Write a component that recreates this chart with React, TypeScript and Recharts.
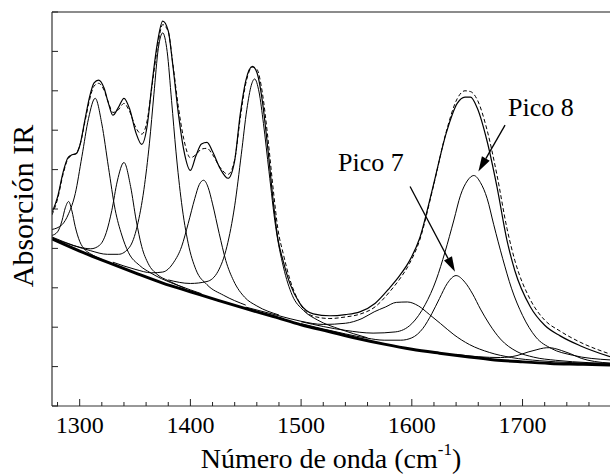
import React from 'react';
import { LineChart, Line, XAxis, YAxis, ReferenceLine, ReferenceDot } from 'recharts';

const FONT = 'Liberation Serif, Times New Roman, serif';

// measured spectrum and fitted envelope (same x grid)
const specX = [1275, 1280, 1285, 1289, 1292, 1297, 1300, 1305, 1309, 1313, 1317, 1322, 1326, 1330, 1335, 1340, 1345, 1351, 1356, 1361, 1365, 1370, 1375, 1380, 1384, 1389, 1394, 1400, 1405, 1410, 1415, 1420, 1427, 1434, 1440, 1445, 1450, 1456, 1460, 1465, 1470, 1475, 1479, 1484, 1490, 1499, 1511, 1526, 1540, 1553, 1567, 1580, 1589, 1598, 1607, 1619, 1631, 1641, 1648, 1653, 1659, 1668, 1677, 1686, 1693, 1707, 1720, 1734, 1752, 1779];
const measuredY = [4.91, 5.3, 5.93, 6.28, 6.36, 6.41, 6.6, 7.3, 7.85, 8.2, 8.27, 8.07, 7.68, 7.38, 7.58, 7.81, 7.55, 6.92, 6.64, 7.12, 8.1, 9.18, 9.77, 9.52, 8.68, 7.45, 6.5, 5.98, 6.35, 6.65, 6.69, 6.46, 6.02, 5.78, 6.23, 7.4, 8.25, 8.62, 8.47, 7.74, 6.52, 5.15, 4.25, 3.66, 3.1, 2.6, 2.34, 2.29, 2.32, 2.39, 2.61, 3.0, 3.31, 3.69, 4.25, 5.55, 6.92, 7.68, 7.84, 7.84, 7.57, 6.72, 5.55, 4.2, 3.44, 2.52, 2.05, 1.78, 1.53, 1.25];
const fitY = [4.85, 5.25, 5.88, 6.25, 6.35, 6.42, 6.6, 7.25, 7.78, 8.12, 8.19, 8.02, 7.7, 7.45, 7.52, 7.68, 7.48, 7.05, 6.9, 7.25, 8.05, 9.05, 9.68, 9.5, 8.72, 7.62, 6.78, 6.3, 6.38, 6.52, 6.54, 6.38, 6.05, 5.88, 6.25, 7.3, 8.18, 8.6, 8.55, 7.95, 6.8, 5.45, 4.5, 3.85, 3.2, 2.6, 2.28, 2.22, 2.26, 2.33, 2.52, 2.9, 3.22, 3.62, 4.2, 5.52, 6.95, 7.8, 8.0, 7.98, 7.78, 7.0, 5.85, 4.5, 3.7, 2.7, 2.18, 1.9, 1.62, 1.32];

// baseline
const baseX = [1275, 1300, 1325, 1350, 1375, 1400, 1425, 1450, 1475, 1500, 1525, 1550, 1575, 1600, 1625, 1650, 1675, 1700, 1725, 1750, 1779];
const baseY = [4.24, 3.93, 3.65, 3.38, 3.12, 2.9, 2.68, 2.47, 2.27, 2.06, 1.89, 1.72, 1.57, 1.44, 1.34, 1.25, 1.17, 1.12, 1.08, 1.06, 1.04];

// fitted component bands (each drawn on top of the baseline)
const p1290X = [1275, 1280, 1284, 1287, 1290, 1293, 1296, 1300, 1305, 1310, 1320];
const p1290Y = [4.33, 4.42, 4.7, 5.03, 5.19, 4.95, 4.55, 4.18, 3.96, 3.86, 3.72];

const p1314X = [1275, 1284, 1290, 1296, 1302, 1308, 1314, 1320, 1326, 1332, 1338, 1344, 1354, 1364, 1374, 1390, 1410];
const p1314Y = [4.48, 4.6, 4.88, 5.39, 6.33, 7.3, 7.81, 7.16, 6.06, 4.99, 4.34, 3.9, 3.57, 3.38, 3.23, 3.05, 2.85];

const p1340X = [1275, 1288, 1300, 1310, 1318, 1324, 1329, 1334, 1340, 1346, 1351, 1356, 1362, 1370, 1380, 1395];
const p1340Y = [4.27, 4.13, 4.03, 3.99, 4.08, 4.4, 4.96, 5.71, 6.18, 5.57, 4.72, 4.05, 3.61, 3.34, 3.18, 2.99];

const p1375X = [1275, 1295, 1310, 1325, 1335, 1345, 1352, 1358, 1363, 1367, 1371, 1375, 1379, 1383, 1387, 1392, 1398, 1405, 1415, 1430, 1450];
const p1375Y = [4.29, 4.07, 3.94, 3.85, 3.85, 4.03, 4.57, 5.49, 6.67, 7.9, 9.07, 9.47, 9.0, 7.75, 6.45, 5.16, 4.13, 3.46, 3.08, 2.81, 2.56];

const p1412X = [1330, 1350, 1365, 1375, 1385, 1392, 1398, 1404, 1408, 1412, 1416, 1420, 1426, 1432, 1439, 1449, 1460, 1480];
const p1412Y = [3.65, 3.47, 3.38, 3.4, 3.65, 4.04, 4.63, 5.27, 5.62, 5.73, 5.55, 5.13, 4.38, 3.69, 3.18, 2.76, 2.54, 2.31];

const p1458X = [1380, 1400, 1415, 1425, 1433, 1440, 1446, 1451, 1455, 1458, 1462, 1466, 1471, 1477, 1484, 1492, 1502, 1515, 1535, 1560];
const p1458Y = [3.2, 3.11, 3.16, 3.42, 4.05, 5.08, 6.39, 7.53, 8.14, 8.3, 7.97, 7.17, 5.95, 4.55, 3.53, 2.81, 2.43, 2.18, 1.95, 1.73];

const p1596X = [1450, 1480, 1500, 1520, 1540, 1555, 1566, 1576, 1586, 1596, 1606, 1616, 1626, 1638, 1652, 1670, 1690, 1715, 1745, 1779];
const p1596Y = [2.51, 2.29, 2.15, 2.07, 2.1, 2.22, 2.39, 2.51, 2.63, 2.64, 2.54, 2.32, 2.09, 1.81, 1.56, 1.36, 1.23, 1.15, 1.1, 1.06];

const pico7X = [1500, 1540, 1560, 1575, 1590, 1600, 1610, 1618, 1625, 1632, 1640, 1648, 1655, 1662, 1670, 1680, 1695, 1710, 1730, 1760, 1779];
const pico7Y = [2.09, 1.83, 1.72, 1.67, 1.67, 1.73, 1.97, 2.34, 2.73, 3.11, 3.31, 3.14, 2.84, 2.46, 2.08, 1.7, 1.38, 1.24, 1.16, 1.1, 1.08];

const pico8X = [1500, 1540, 1565, 1585, 1600, 1612, 1622, 1630, 1638, 1644, 1650, 1656, 1662, 1668, 1674, 1682, 1690, 1700, 1712, 1726, 1745, 1779];
const pico8Y = [2.14, 1.92, 1.85, 1.88, 2.09, 2.57, 3.2, 3.91, 4.72, 5.35, 5.71, 5.85, 5.67, 5.27, 4.6, 3.75, 2.99, 2.3, 1.75, 1.46, 1.29, 1.17];

const p1724X = [1640, 1660, 1680, 1695, 1705, 1713, 1719, 1724, 1729, 1735, 1743, 1753, 1765, 1779];
const p1724Y = [1.31, 1.25, 1.23, 1.28, 1.37, 1.43, 1.47, 1.48, 1.46, 1.41, 1.33, 1.21, 1.13, 1.09];

const xTicks = [1280, 1300, 1320, 1340, 1360, 1380, 1400, 1420, 1440, 1460, 1480, 1500, 1520, 1540, 1560, 1580, 1600, 1620, 1640, 1660, 1680, 1700, 1720, 1740, 1760];
const yTicks = [0, 1, 2, 3, 4, 5, 6, 7, 8, 9, 10];

const pts = (xs: number[], ys: number[]) => xs.map((x, i) => ({ x, y: ys[i] }));

const components = [
  pts(p1290X, p1290Y),
  pts(p1314X, p1314Y),
  pts(p1340X, p1340Y),
  pts(p1375X, p1375Y),
  pts(p1412X, p1412Y),
  pts(p1458X, p1458Y),
  pts(p1596X, p1596Y),
  pts(pico7X, pico7Y),
  pts(pico8X, pico8Y),
  pts(p1724X, p1724Y),
];

const serif = { fontFamily: FONT };

const XTick = (props: any) => {
  const { x, y, payload } = props;
  const major = payload.value % 100 === 0;
  return (
    <g>
      <line x1={x} x2={x} y1={y} y2={y - (major ? 7 : 4)} stroke="#222" strokeWidth={1} />
      {major && (
        <text x={x} y={y + 27} textAnchor="middle" fontSize={24} style={serif} fill="#000">
          {payload.value}
        </text>
      )}
    </g>
  );
};

const YTick = (props: any) => {
  const { x, y } = props;
  return <line x1={x} x2={x + 6} y1={y} y2={y} stroke="#222" strokeWidth={1} />;
};

const XTitle = (props: any) => {
  const vb = props.viewBox;
  return (
    <text x={vb.x + vb.width / 2} y={vb.y + 62} textAnchor="middle" fontSize={28} style={serif} fill="#000">
      <tspan>Número de onda (cm</tspan>
      <tspan dy={-13} fontSize={17}>-1</tspan>
      <tspan dy={13}>)</tspan>
    </text>
  );
};

const YTitle = (props: any) => {
  const vb = props.viewBox;
  const cx = 33;
  const cy = vb.y + vb.height / 2 - 3;
  return (
    <text x={cx} y={cy} transform={`rotate(-90 ${cx} ${cy})`} textAnchor="middle" fontSize={30} style={serif} fill="#000">
      Absorción IR
    </text>
  );
};

const Arrow = (props: any) => {
  const { x1, y1, x2, y2 } = props;
  const a = Math.atan2(y2 - y1, x2 - x1);
  const len = 15;
  const half = 4.5;
  const bx = x2 - len * Math.cos(a);
  const by = y2 - len * Math.sin(a);
  const p1 = `${bx - half * Math.sin(a)},${by + half * Math.cos(a)}`;
  const p2 = `${bx + half * Math.sin(a)},${by - half * Math.cos(a)}`;
  return (
    <g>
      <line x1={x1} y1={y1} x2={bx} y2={by} stroke="#000" strokeWidth={1.3} />
      <polygon points={`${x2},${y2} ${p1} ${p2}`} fill="#000" />
    </g>
  );
};

const textShape = (label: string) => (props: any) => (
  <text x={props.cx} y={props.cy} fontSize={26} style={serif} fill="#000">
    {label}
  </text>
);

export default function App() {
  return (
    <div style={{ position: 'absolute', left: 0, top: 0, background: '#fff', fontFamily: FONT }}>
      <LineChart width={610} height={474} margin={{ top: 12, right: 0, bottom: 0, left: 0 }}>
        <XAxis
          dataKey="x"
          type="number"
          domain={[1275, 1779]}
          allowDataOverflow
          ticks={xTicks}
          interval={0}
          tickLine={false}
          tickSize={0}
          tickMargin={0}
          tick={XTick}
          height={68}
          axisLine={{ stroke: '#333', strokeWidth: 1.2 }}
          label={XTitle}
        />
        <YAxis
          type="number"
          domain={[0, 10]}
          allowDataOverflow
          ticks={yTicks}
          interval={0}
          tickLine={false}
          tickSize={0}
          tickMargin={0}
          tick={YTick}
          width={52}
          axisLine={{ stroke: '#333', strokeWidth: 1.2 }}
          label={YTitle}
        />
        <ReferenceLine y={10} stroke="#666" strokeWidth={1.5} />

        {components.map((d, i) => (
          <Line
            key={i}
            data={d}
            dataKey="y"
            type="monotone"
            stroke="#000"
            strokeWidth={1}
            dot={false}
            isAnimationActive={false}
          />
        ))}
        <Line data={pts(baseX, baseY)} dataKey="y" type="monotone" stroke="#000" strokeWidth={3} dot={false} isAnimationActive={false} />
        <Line data={pts(specX, fitY)} dataKey="y" type="monotone" stroke="#000" strokeWidth={1} strokeDasharray="4 2.5" dot={false} isAnimationActive={false} />
        <Line data={pts(specX, measuredY)} dataKey="y" type="monotone" stroke="#000" strokeWidth={1.2} dot={false} isAnimationActive={false} />

        <ReferenceLine segment={[{ x: 1598.4, y: 5.57 }, { x: 1639, y: 3.41 }]} shape={Arrow} />
        <ReferenceLine segment={[{ x: 1684.2, y: 7.13 }, { x: 1660.1, y: 5.95 }]} shape={Arrow} />
        <ReferenceDot x={1533.4} y={5.96} r={0} shape={textShape('Pico 7')} />
        <ReferenceDot x={1686.9} y={7.35} r={0} shape={textShape('Pico 8')} />
      </LineChart>
    </div>
  );
}
